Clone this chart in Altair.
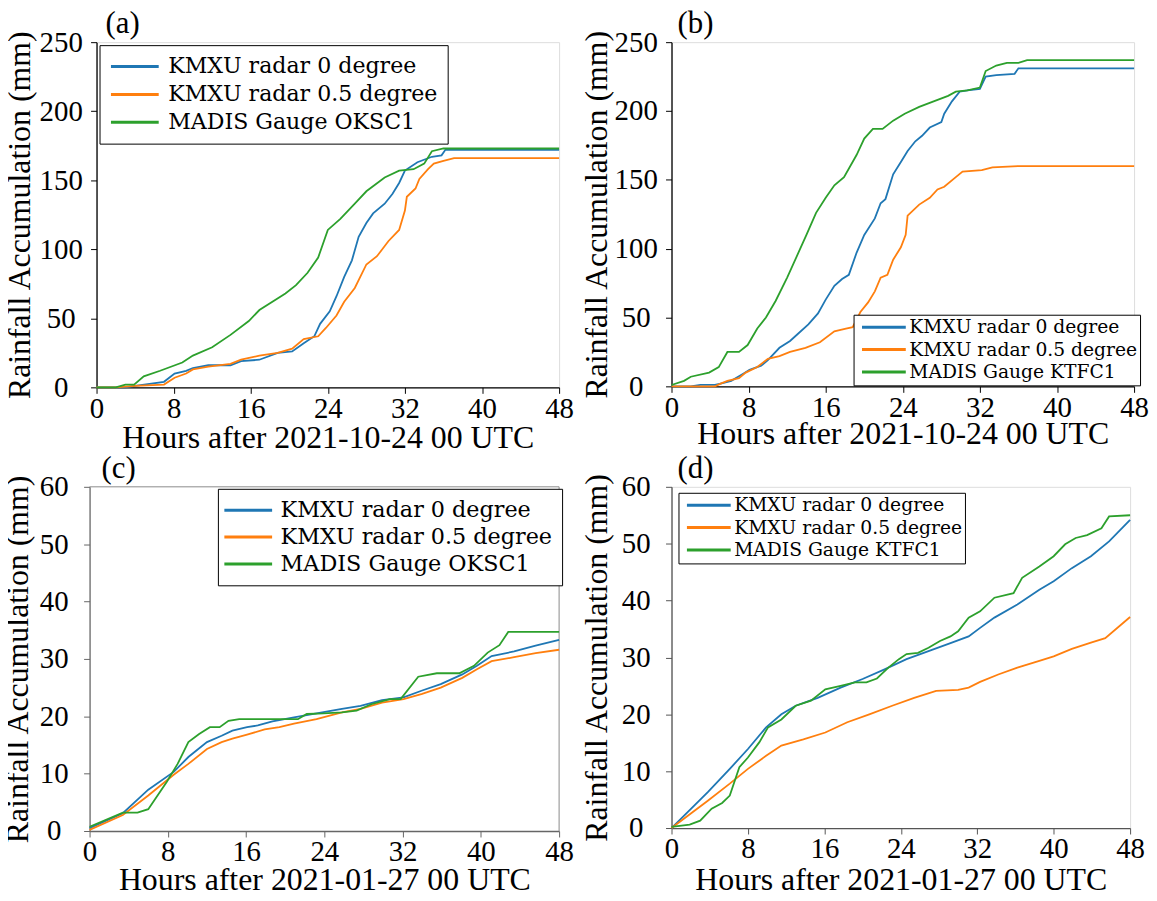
import altair as alt
import pandas as pd

BLUE, ORANGE, GREEN = "#1f77b4", "#ff7f0e", "#2ca02c"
X_TICKS = [0, 8, 16, 24, 32, 40, 48]

# ---------------- panel (a) ----------------
a_blue_x = [0, 3, 4, 7, 8.1, 9.3, 10, 11.6, 13.9, 15, 16.9, 18.8, 20.3, 21.5, 22.6, 23.2, 24.2, 24.9, 25.7, 26.5, 27.2, 28, 28.7, 29.9, 30.7, 31.4, 32, 33.3, 34.8, 35.8, 36.2, 48]
a_blue_y = [0, 0, 1, 4, 10, 12, 14, 16, 16, 19, 20, 25, 26, 32, 37, 46, 55, 66, 80, 92, 109, 119, 126, 133, 140, 148, 157, 163, 167, 168, 172, 172]
a_orange_x = [0, 2, 4, 7, 8.1, 9.3, 10, 11.6, 13.9, 15, 16.9, 18.8, 20.3, 21.5, 23, 23.8, 24.9, 25.7, 26.8, 28, 29.1, 30.3, 31.4, 32, 32.2, 33.1, 33.5, 34.4, 35, 36, 37.1, 48]
a_orange_y = [0, 0, 1, 2, 7, 10, 13, 15, 17, 20, 23, 25, 28, 35, 37, 43, 52, 62, 72, 89, 95, 106, 114, 128, 138, 144, 151, 158, 162, 164, 166, 166]
a_green_x = [0, 2, 3, 3.9, 4.9, 6.6, 8.9, 10, 12, 13.9, 15.8, 16.9, 19.6, 20.7, 21.9, 23, 24, 25.3, 26.8, 28, 29.9, 31.4, 32.9, 34, 34.8, 36, 48]
a_green_y = [0, 0, 2, 2, 8, 12, 18, 23, 29, 38, 48, 56, 68, 74, 83, 94, 114, 122, 133, 142, 152, 157, 158, 162, 171, 173, 173]
a_labels = ["KMXU radar 0 degree", "KMXU radar 0.5 degree", "MADIS Gauge OKSC1"]

# ---------------- panel (b) ----------------
b_blue_x = [0, 2, 3, 4.5, 5.1, 6.2, 7.4, 8.1, 9.3, 10, 11.2, 12.3, 13.1, 14.2, 15.2, 16, 16.9, 17.7, 18.4, 19.2, 20, 21.1, 21.7, 22.2, 23, 23.8, 24.5, 25.3, 26, 26.8, 28, 28.3, 29.1, 29.9, 30.7, 32, 32.6, 33.7, 35.6, 36, 48]
b_blue_y = [0, 0, 1, 1, 2, 4, 9, 12, 15, 19, 28, 33, 38, 45, 53, 63, 73, 78, 81, 97, 110, 122, 133, 136, 154, 163, 171, 178, 182, 188, 192, 198, 207, 214, 215, 216, 225, 226, 227, 231, 231]
b_orange_x = [0, 4.5, 5.1, 5.8, 7, 7.7, 8.9, 10, 11.2, 12.3, 13.9, 15.4, 16.9, 18.1, 18.8, 19.6, 20.4, 21.1, 21.7, 22.4, 23, 23.8, 24.3, 24.5, 25.7, 26.8, 27.6, 28.3, 29.5, 30.2, 32.2, 33.3, 36, 48]
b_orange_y = [0, 0, 2, 4, 6, 10, 14, 20, 22, 25, 28, 32, 40, 42, 43, 54, 61, 69, 79, 81, 92, 101, 110, 124, 132, 137, 143, 145, 152, 156, 157, 159, 160, 160]
b_green_x = [0, 1.3, 2, 3.9, 4.9, 5.8, 7, 7.9, 8.9, 9.8, 10.8, 12, 13.1, 14, 15, 16, 16.9, 17.9, 19.2, 20, 20.9, 21.9, 23, 24.2, 25.7, 27.2, 28.7, 29.5, 30.7, 32, 32.6, 33.7, 34.8, 36, 36.9, 48]
b_green_y = [1, 4, 7, 10, 14, 25, 25, 30, 42, 50, 62, 79, 96, 110, 126, 137, 146, 152, 168, 180, 187, 187, 193, 198, 203, 207, 211, 214, 215, 217, 229, 233, 235, 235, 237, 237]
b_labels = ["KMXU radar 0 degree", "KMXU radar 0.5 degree", "MADIS Gauge KTFC1"]

# ---------------- panel (c) ----------------
c_blue_x = [0, 3.4, 6, 8.6, 10.1, 12, 13.5, 14.6, 16.1, 17.2, 18.7, 20.9, 23.2, 25.8, 27.7, 29.9, 32.1, 34, 35.9, 38.1, 39.6, 41.1, 43.4, 45.6, 48]
c_blue_y = [0.5, 3.1, 7.2, 10.3, 12.9, 15.5, 16.6, 17.5, 18.1, 18.4, 19.1, 19.8, 20.5, 21.3, 21.8, 22.8, 23.3, 24.5, 25.6, 27.3, 28.8, 30.5, 31.3, 32.3, 33.3]
c_orange_x = [0, 3.4, 6, 8.6, 10.1, 12, 13.5, 14.6, 16.1, 17.9, 19.4, 20.9, 23.2, 25.8, 27.7, 29.9, 32.1, 34, 35.9, 38.1, 39.6, 41.1, 43.4, 45.6, 48]
c_orange_y = [0.2, 2.8, 6.2, 9.8, 11.7, 14.3, 15.5, 16.1, 16.8, 17.7, 18.1, 18.7, 19.5, 20.7, 21.3, 22.4, 23, 23.9, 25, 26.7, 28.2, 29.6, 30.3, 31, 31.6]
c_green_x = [0, 3.4, 4.9, 6, 7.9, 9, 10.1, 11.2, 12.3, 13.3, 14.2, 15.3, 17.2, 21.3, 22.2, 23.9, 25.8, 27.3, 28.8, 30.7, 31.8, 33.6, 35.5, 37.8, 39.3, 40.7, 41.9, 42.8, 48]
c_green_y = [0.75, 3.2, 3.2, 3.8, 8.6, 11.7, 15.5, 16.9, 18.1, 18.1, 19.2, 19.5, 19.5, 19.5, 20.4, 20.5, 20.7, 21, 22.1, 23, 23, 26.9, 27.5, 27.5, 28.8, 31.1, 32.4, 34.7, 34.7]
c_labels = ["KMXU radar 0 degree", "KMXU radar 0.5 degree", "MADIS Gauge OKSC1"]

# ---------------- panel (d) ----------------
d_blue_x = [0, 3.8, 6.1, 8, 9.9, 11.5, 13, 15.3, 17.7, 20, 22.3, 24.6, 26.9, 29.2, 31.1, 32.3, 33.8, 36.2, 38.5, 40, 41.9, 43.9, 45.8, 48]
d_blue_y = [0, 6.3, 10.4, 13.9, 17.7, 20, 21.5, 22.9, 24.7, 26.2, 27.9, 29.7, 31.1, 32.5, 33.7, 35.2, 37, 39.3, 41.9, 43.4, 45.7, 47.8, 50.4, 54.2]
d_orange_x = [0, 3.8, 6.1, 8, 9.9, 11.5, 13.8, 16.1, 18.4, 20.7, 23.1, 25.4, 27.7, 30, 31.1, 32.3, 34.2, 36.2, 38.5, 40, 41.9, 43.9, 45.4, 48]
d_orange_y = [0, 4.8, 7.8, 10.4, 12.7, 14.5, 15.6, 16.8, 18.6, 20, 21.5, 22.9, 24.1, 24.3, 24.7, 25.7, 27, 28.2, 29.4, 30.2, 31.5, 32.6, 33.4, 37.1]
d_green_x = [0, 1.9, 3, 4.2, 5.3, 6.1, 7.1, 8, 9.2, 10.1, 11.5, 13, 14.6, 16.1, 17.7, 19.2, 20.4, 21.5, 22.7, 23.8, 24.6, 25.8, 26.9, 28.1, 29.2, 30, 31.1, 32.3, 33.8, 35.8, 36.7, 38.5, 40, 41.2, 42.3, 43.5, 45, 45.8, 48]
d_green_y = [0.2, 0.6, 1.3, 3.4, 4.4, 5.7, 10.7, 12.4, 15.1, 17.7, 19.1, 21.5, 22.4, 24.4, 25, 25.6, 25.6, 26.3, 28.2, 29.7, 30.6, 30.8, 31.7, 32.9, 33.7, 34.6, 37, 38.1, 40.5, 41.3, 44, 46, 47.8, 49.9, 51, 51.5, 52.7, 54.8, 55]
d_labels = ["KMXU radar 0 degree", "KMXU radar 0.5 degree", "MADIS Gauge KTFC1"]

FRAME = "#8a8a8a"


def frame(series, labels):
    rows = []
    for (xs, ys), lab in zip(series, labels):
        for i, (x, y) in enumerate(zip(xs, ys)):
            rows.append({"hour": x, "rain": y, "series": lab, "order": i})
    return pd.DataFrame(rows)


def panel(df, labels, tag, tag_x, ymax, ystep, width, height, title_x, xtitle, xtitle_y,
          axis_color, leg, shift=0):
    sym_s = leg["s"]
    legend = alt.Legend(
        orient="none", legendX=leg["x"], legendY=leg["y"],
        symbolType=leg["path"], symbolSize=sym_s * sym_s, symbolStrokeWidth=3,
        labelFont="DejaVu Serif", labelFontSize=leg["fs"], labelColor="black",
        labelOffset=leg["lo"], labelLimit=500, padding=leg["pad"],
        rowPadding=leg["rp"], strokeColor="black", fillColor="white",
    )
    if shift:
        xscale = alt.Scale(domain=[0, 48], nice=False, range=[-shift, width])
    else:
        xscale = alt.Scale(domain=[0, 48], nice=False)
    yscale = alt.Scale(domain=[0, ymax], nice=False)
    x_axis = alt.Axis(
        values=X_TICKS, grid=False, title=xtitle,
        titleFont="Liberation Serif", titleFontSize=32, titleFontWeight="normal",
        titleColor="black", titleBaseline="alphabetic", titleY=xtitle_y,
        labelFont="Liberation Serif", labelFontSize=29, labelColor="black",
        labelBaseline="alphabetic", labelPadding=24, labelFlush=False,
        labelOverlap=False, tickSize=6, tickColor=axis_color,
        domainColor=axis_color, domainWidth=1.3,
    )
    y_axis = alt.Axis(
        values=list(range(0, ymax + 1, ystep)), grid=False,
        title="Rainfall Accumulation (mm)", offset=shift,
        titleFont="Liberation Serif", titleFontSize=32, titleFontWeight="normal",
        titleColor="black", titleX=title_x,
        labelFont="Liberation Serif", labelFontSize=29, labelColor="black",
        labelAlign="center", labelPadding=30, labelFlush=False,
        labelOverlap=False, tickSize=6, tickColor=axis_color,
        domainColor=axis_color, domainWidth=1.3,
    )
    lines = alt.Chart(df).mark_line(strokeWidth=1.8).encode(
        x=alt.X("hour:Q", scale=xscale, axis=x_axis),
        y=alt.Y("rain:Q", scale=yscale, axis=y_axis),
        color=alt.Color("series:N", title=None,
                        scale=alt.Scale(domain=labels, range=[BLUE, ORANGE, GREEN]),
                        legend=legend),
        order="order:Q",
    )
    tag_df = pd.DataFrame({"t": [tag]})
    tag_mark = alt.Chart(tag_df).mark_text(
        font="Liberation Serif", fontSize=31, align="left", baseline="alphabetic",
        color="black",
    ).encode(text="t:N", x=alt.value(tag_x), y=alt.value(-9))
    layers = [lines, tag_mark]
    props = dict(width=width, height=height)
    if shift:
        top_rule = alt.Chart(tag_df).mark_rule(color=FRAME, strokeWidth=1).encode(
            x=alt.value(-shift), x2=alt.value(width), y=alt.value(0))
        right_rule = alt.Chart(tag_df).mark_rule(color=FRAME, strokeWidth=1).encode(
            x=alt.value(width), y=alt.value(0), y2=alt.value(height))
        layers = [top_rule, right_rule] + layers
        props["view"] = alt.ViewBackground(stroke="transparent")
    return alt.layer(*layers).properties(**props)


leg_small = dict(s=16, path="M-0.5,0H5", lo=34, pad=3, rp=2.5)

pa = panel(frame([(a_blue_x, a_blue_y), (a_orange_x, a_orange_y), (a_green_x, a_green_y)], a_labels),
           a_labels, "(a)", 9, 250, 50, 465, 347, -60, "Hours after 2021-10-24 00 UTC", 60, "black",
           dict(s=20, path="M-1,0H3.8", lo=36, pad=10, rp=5, x=3, y=3, fs=22.2))
pb = panel(frame([(b_blue_x, b_blue_y), (b_orange_x, b_orange_y), (b_green_x, b_green_y)], b_labels),
           b_labels, "(b)", 6, 250, 50, 465, 346, -58, "Hours after 2021-10-24 00 UTC", 57, "black",
           dict(leg_small, x=183, y=274, fs=18.8))
pc = panel(frame([(c_blue_x, c_blue_y), (c_orange_x, c_orange_y), (c_green_x, c_green_y)], c_labels),
           c_labels, "(c)", 5, 60, 10, 465, 346, -55, "Hours after 2021-01-27 00 UTC", 59, "#666666",
           dict(s=20, path="M-1.5,0H3.3", lo=30, pad=10, rp=4, x=122, y=2, fs=22.4), shift=7)
pd_ = panel(frame([(d_blue_x, d_blue_y), (d_orange_x, d_orange_y), (d_green_x, d_green_y)], d_labels),
            d_labels, "(d)", 6, 60, 10, 461, 343, -58, "Hours after 2021-01-27 00 UTC", 62, "#555555",
            dict(leg_small, x=7, y=6, fs=18.8))

chart = alt.concat(
    pa, pb, pc, pd_, columns=2, spacing={"row": -2, "column": 6}
).properties(
    padding={"left": -7, "top": -3, "right": 0, "bottom": 0},
).resolve_scale(
    color="independent", x="independent", y="independent"
).configure_view(
    stroke=FRAME, strokeWidth=1
).configure_legend(
    strokeWidth=2.5
).configure(background="white")

chart.save("out.html", embed_options={"renderer": "svg", "actions": False})
